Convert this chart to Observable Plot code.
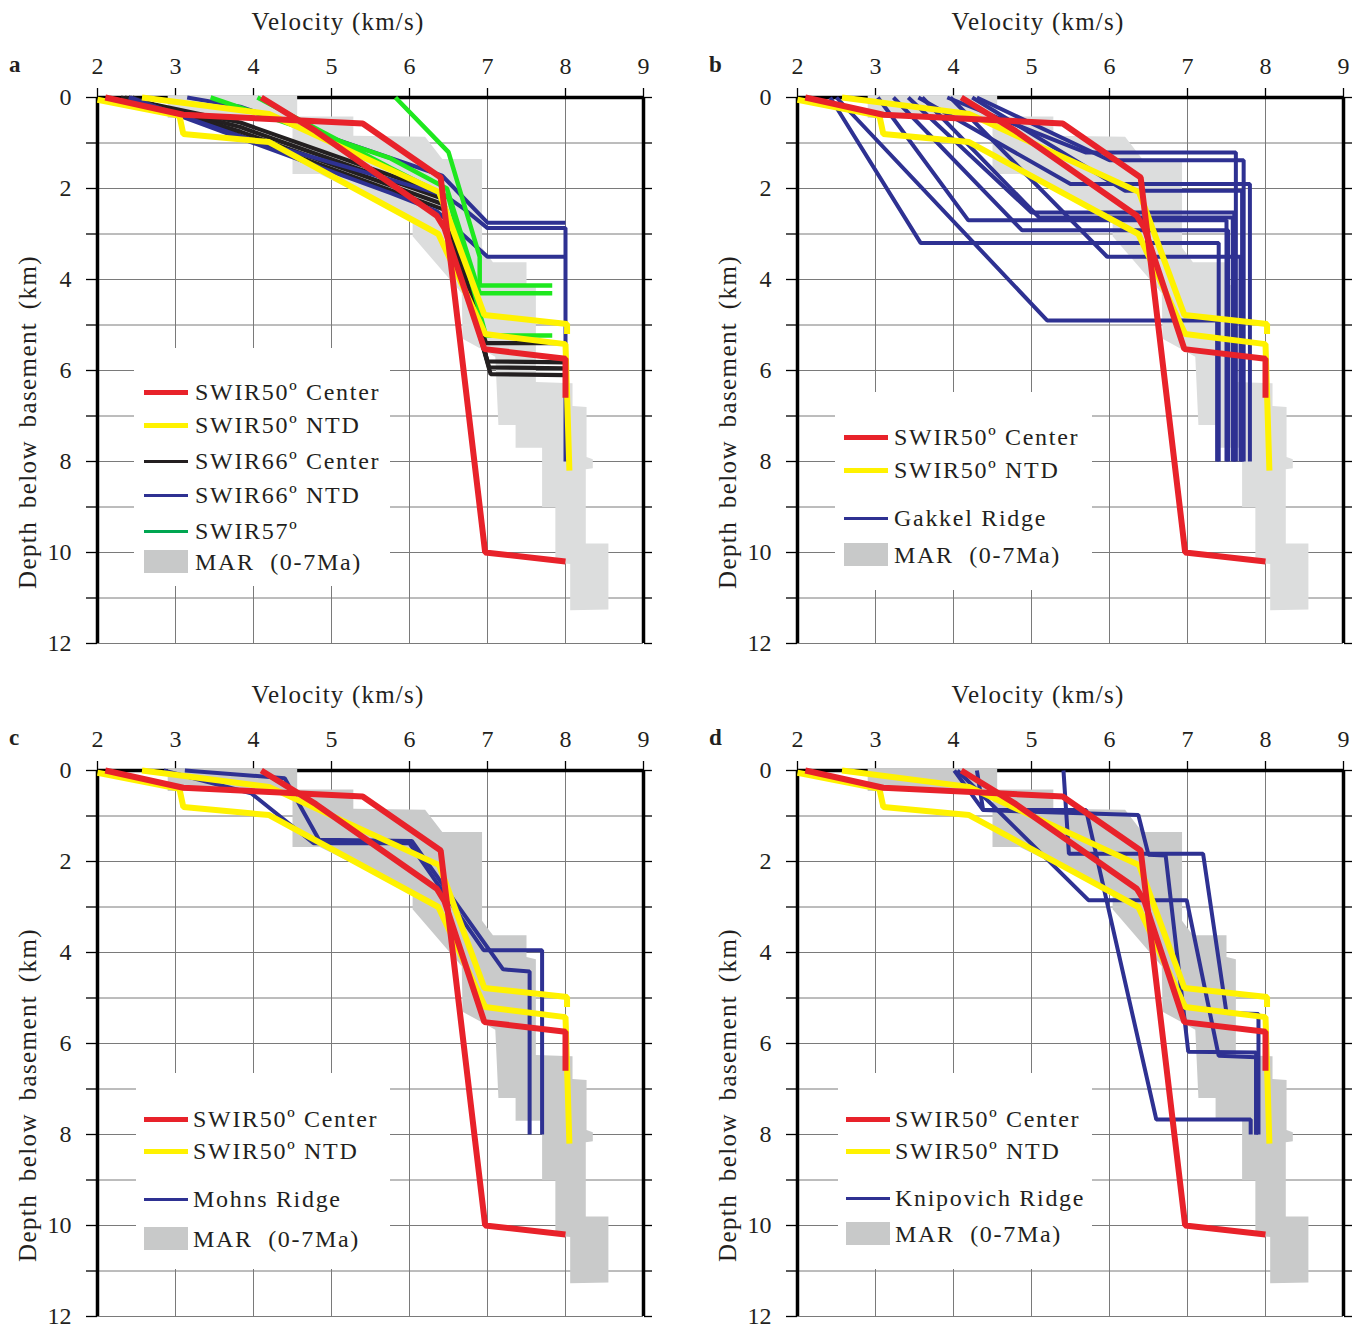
<!DOCTYPE html>
<html>
<head>
<meta charset="utf-8">
<script src="https://cdn.jsdelivr.net/npm/d3@7"></script>
<script src="https://cdn.jsdelivr.net/npm/@observablehq/plot@0.6"></script>
<style>
  body { margin: 0; background: #fff; }
  #wrap { position: relative; width: 1355px; height: 1327px; font-family: "Liberation Serif", "Times New Roman", serif; color: #231f20; overflow: hidden; }
  .panel { position: absolute; width: 677px; height: 663px; }
  .panel svg { position: absolute; left: 0; top: 0; overflow: visible; }
  .ov { position: absolute; white-space: pre; line-height: 1; }
  .title { font-size: 25px; letter-spacing: 1.2px; transform: translate(-50%, -50%); }
  .ylab { font-size: 25px; letter-spacing: 1.4px; word-spacing: 5px; transform: translate(-50%, -50%) rotate(-90deg); }
  .letter { font-size: 23px; font-weight: bold; transform: translateY(-50%); }
  .legbox { position: absolute; background: #fff; }
  .legtxt { font-size: 24px; letter-spacing: 1.7px; transform: translateY(-50%); }
  .sw { position: absolute; }
</style>
</head>
<body>
<div id="wrap"></div>
<script>
// ---------------- axis ticks ----------------
const xTicks = [2, 3, 4, 5, 6, 7, 8, 9];
const yTicks = [0, 1, 2, 3, 4, 5, 6, 7, 8, 9, 10, 11, 12];

// ---------------- profiles: [velocity km/s, depth km] ----------------
// SWIR 50° Center (red)
const swir50Center1 = [[2.1,0],[3.1,0.38],[5.4,0.57],[6.4,1.76],[6.97,10.0],[8.0,10.2]];
const swir50Center2 = [[4.1,0],[4.8,0.74],[6.35,2.6],[6.45,2.88],[6.96,5.53],[8.0,5.74],[8.0,6.6]];
// SWIR 50° NTD (yellow)
const swir50NTD1 = [[2.57,0],[4.2,0.36],[6.38,2.08],[6.96,4.78],[8.02,4.98],[8.02,5.2]];
const swir50NTD2 = [[2.0,0.05],[3.05,0.4],[3.1,0.8],[4.2,0.98],[6.37,3.0],[6.97,5.2],[8.0,5.42],[8.05,8.2]];
// SWIR 66° Center (black)
const swir66Center1 = [[2.3,0],[3.83,0.55],[6.4,2.1],[6.55,2.9],[6.98,5.4],[8.0,5.4]];
const swir66Center2 = [[2.35,0],[3.83,0.65],[6.42,2.22],[7.0,5.8],[8.0,5.82]];
const swir66Center3 = [[2.4,0],[3.83,0.75],[6.44,2.35],[7.02,5.93],[8.0,5.95]];
const swir66Center4 = [[2.45,0],[3.83,0.84],[6.45,2.47],[7.04,6.08],[8.0,6.1]];
// SWIR 66° NTD (blue)
const swir66NTD1 = [[3.15,0],[3.83,0.2],[6.42,1.72],[7.0,2.75],[8.0,2.75]];
const swir66NTD2 = [[2.4,0],[3.83,0.85],[6.45,2.15],[6.7,2.45],[7.0,2.87],[8.0,2.87],[8.0,8.0]];
const swir66NTD3 = [[2.42,0],[4.0,1.0],[5.76,2.1],[6.35,2.5],[7.0,3.5],[8.0,3.5]];
// SWIR 57° (green)
const swir57_1 = [[5.82,0],[6.5,1.2],[6.9,3.5],[6.9,4.13],[7.83,4.13]];
const swir57_2 = [[3.45,0],[5.76,1.34],[6.48,2.0],[6.9,4.3],[7.83,4.3]];
const swir57_3 = [[4.05,0],[5.76,1.55],[6.5,2.2],[6.98,5.23],[7.83,5.23]];
// Gakkel Ridge (blue)
const gakkel1 = [[3.92,0],[5.7,1.21],[7.62,1.21],[7.62,8.0]];
const gakkel2 = [[4.3,0],[6.0,1.38],[7.72,1.38],[7.72,8.0]];
const gakkel3 = [[3.55,0],[5.5,1.9],[7.8,1.9],[7.8,8.0]];
const gakkel4 = [[4.24,0],[6.2,2.05],[7.7,2.05],[7.7,8.0]];
const gakkel5 = [[3.42,0],[5.0,2.53],[7.6,2.53],[7.6,8.0]];
const gakkel6 = [[3.6,0],[5.1,2.64],[7.58,2.64],[7.58,8.0]];
const gakkel7 = [[3.03,0],[4.19,2.7],[7.5,2.7],[7.5,8.0]];
const gakkel8 = [[3.23,0],[4.88,2.92],[7.52,2.92],[7.52,8.0]];
const gakkel9 = [[2.42,0],[3.58,3.2],[7.4,3.2],[7.4,8.0]];
const gakkel10 = [[3.96,0],[5.97,3.5],[7.68,3.5],[7.68,8.0]];
const gakkel11 = [[2.5,0],[5.2,4.9],[7.38,4.9],[7.38,8.0]];
// Mohns Ridge (blue)
const mohns1 = [[3.12,0],[4.4,0.17],[4.84,1.52],[6.03,1.55],[7.2,4.37],[7.54,4.42],[7.54,8.0]];
const mohns2 = [[2.85,0],[3.97,0.5],[4.77,1.6],[6.0,1.6],[6.95,3.95],[7.7,3.95],[7.7,8.0]];
// Knipovich Ridge (blue)
const knipovich1 = [[4.01,0],[4.38,0.87],[6.37,0.98],[6.5,1.85],[6.72,1.87],[7.01,6.18],[7.88,6.2],[7.88,8.0]];
const knipovich2 = [[4.3,0],[4.38,0.87],[5.7,0.87],[6.6,7.67],[7.81,7.67],[7.81,8.0]];
const knipovich3 = [[5.41,0],[5.48,1.83],[7.2,1.83],[7.5,5.33],[7.91,5.35],[7.91,8.0]];
const knipovich4 = [[4.05,0],[5.73,2.85],[6.99,2.85],[7.4,6.27],[7.88,6.3],[7.88,8.0]];
// MAR (0-7 Ma) envelope: left edge top->bottom, then right edge bottom->top
const marLeft = [[2.9,-0.05],[2.9,0.45],[4.5,0.45],[4.5,1.68],[4.85,1.68],[6.04,2.7],[6.04,3.05],[6.67,4.3],[6.68,5.3],[7.1,5.7],[7.14,7.2],[7.36,7.2],[7.36,7.7],[7.7,7.7],[7.7,9.0],[7.87,9.0],[7.87,10.22],[8.06,10.25],[8.06,11.27]];
const marRight = [[8.55,11.25],[8.55,9.8],[8.26,9.8],[8.26,8.17],[8.35,8.15],[8.35,7.95],[8.27,7.9],[8.27,6.8],[8.09,6.78],[8.09,6.28],[7.62,6.25],[7.62,4.15],[7.5,4.1],[7.5,3.62],[7.07,3.62],[6.93,3.3],[6.93,1.35],[6.42,1.35],[6.2,0.86],[5.28,0.84],[5.28,0.42],[4.56,0.42],[4.56,-0.05]];

// ---------------- styles ----------------
const RED = "#e8222a", YELLOW = "#fff200", BLUE = "#2e3192", BLACK = "#231f20", GREEN = "#1ee81e", GREENLEG = "#00a651";

const series = {
  red:    {color: RED, width: 6, profiles: [swir50Center1, swir50Center2]},
  yellow: {color: YELLOW, width: 6, profiles: [swir50NTD1, swir50NTD2]},
  black:  {color: BLACK, width: 4.2, profiles: [swir66Center1, swir66Center2, swir66Center3, swir66Center4]},
  blue66: {color: BLUE, width: 4, profiles: [swir66NTD1, swir66NTD2, swir66NTD3]},
  green:  {color: GREEN, width: 4.5, profiles: [swir57_1, swir57_2, swir57_3]},
  gakkel: {color: BLUE, width: 4, profiles: [gakkel1,gakkel2,gakkel3,gakkel4,gakkel5,gakkel6,gakkel7,gakkel8,gakkel9,gakkel10,gakkel11]},
  mohns:  {color: BLUE, width: 4, profiles: [mohns1, mohns2]},
  knip:   {color: BLUE, width: 4, profiles: [knipovich1, knipovich2, knipovich3, knipovich4]}
};

const panels = [
  {letter: "a", left: 0, top: 0, mar: "#dcdddd", order: ["black","blue66","green","yellow","red"],
   box: [134, 348, 256, 238],
   legend: [
     {t: "SWIR50º Center", c: RED, w: 5, y: 392},
     {t: "SWIR50º NTD", c: YELLOW, w: 5, y: 425},
     {t: "SWIR66º Center", c: BLACK, w: 3, y: 461},
     {t: "SWIR66º NTD", c: BLUE, w: 3, y: 495},
     {t: "SWIR57º", c: GREENLEG, w: 3, y: 531},
     {t: "MAR  (0-7Ma)", c: "#c8c9c9", rect: true, y: 562}
   ], sx: 144, tx: 195},
  {letter: "b", left: 700, top: 0, mar: "#dcdddd", order: ["gakkel","yellow","red"],
   box: [135, 392, 257, 198],
   legend: [
     {t: "SWIR50º Center", c: RED, w: 5, y: 437},
     {t: "SWIR50º NTD", c: YELLOW, w: 5, y: 470},
     {t: "Gakkel Ridge", c: BLUE, w: 3, y: 518},
     {t: "MAR  (0-7Ma)", c: "#c8c9c9", rect: true, y: 555}
   ], sx: 144, tx: 194},
  {letter: "c", left: 0, top: 673, mar: "#c9caca", order: ["mohns","yellow","red"],
   box: [136, 400, 254, 196],
   legend: [
     {t: "SWIR50º Center", c: RED, w: 5, y: 446},
     {t: "SWIR50º NTD", c: YELLOW, w: 5, y: 478},
     {t: "Mohns Ridge", c: BLUE, w: 3, y: 526},
     {t: "MAR  (0-7Ma)", c: "#c8c9c9", rect: true, y: 566}
   ], sx: 144, tx: 193},
  {letter: "d", left: 700, top: 673, mar: "#c9caca", order: ["knip","yellow","red"],
   box: [138, 400, 254, 196],
   legend: [
     {t: "SWIR50º Center", c: RED, w: 5, y: 446},
     {t: "SWIR50º NTD", c: YELLOW, w: 5, y: 478},
     {t: "Knipovich Ridge", c: BLUE, w: 3, y: 525},
     {t: "MAR  (0-7Ma)", c: "#c8c9c9", rect: true, y: 561}
   ], sx: 146, tx: 195}
];

function rowsOf(profiles, key) {
  const rows = [];
  profiles.forEach((p, i) => p.forEach(([v, d]) => rows.push({id: key + i, v, d})));
  return rows;
}
const marRows = [...marLeft, ...marRight].map(([v, d]) => ({v, d}));

const wrap = document.getElementById("wrap");

for (const p of panels) {
  const div = document.createElement("div");
  div.className = "panel";
  div.style.left = p.left + "px";
  div.style.top = p.top + "px";
  wrap.appendChild(div);

  const dataMarks = p.order.map(k => {
    const s = series[k];
    return Plot.line(rowsOf(s.profiles, k), {x: "v", y: "d", z: "id", stroke: s.color, strokeWidth: s.width, strokeLinejoin: "miter", strokeLinecap: "butt"});
  });

  const svg = Plot.plot({
    width: 677, height: 663,
    marginLeft: 97, marginTop: 97, marginRight: 34, marginBottom: 20,
    x: {domain: [2, 9], axis: null},
    y: {domain: [0, 12], reverse: true, axis: null},
    style: {fontFamily: "Liberation Serif, Times New Roman, serif", fontSize: "24px", color: "#231f20", background: "transparent", overflow: "visible"},
    marks: [
      Plot.ruleX(xTicks, {stroke: "#7a7a7a", strokeWidth: 1}),
      Plot.ruleY(yTicks, {stroke: "#7a7a7a", strokeWidth: 1}),
      Plot.axisX({anchor: "top", ticks: xTicks, tickSize: 10, tickPadding: 14, label: null, fontSize: 24, stroke: "#000", strokeWidth: 1.3, tickFormat: d => String(d)}),
      Plot.axisY({anchor: "left", ticks: yTicks, tickSize: 11, tickPadding: 15, label: null, fontSize: 24, stroke: "#000", strokeWidth: 1.3, tickFormat: d => d % 2 === 0 ? String(d) : ""}),
      Plot.axisY({anchor: "right", ticks: yTicks, tickSize: 8, label: null, stroke: "#000", strokeWidth: 1.3, tickFormat: () => ""}),
      Plot.ruleY([0], {stroke: "#000", strokeWidth: 3.5}),
      Plot.ruleX([2, 9], {y1: 0, y2: 12, stroke: "#000", strokeWidth: 3.5}),
      Plot.line(marRows, {x: "v", y: "d", fill: p.mar, stroke: "none"}),
      ...dataMarks
    ]
  });
  div.appendChild(svg);

  // titles
  const t = document.createElement("div");
  t.className = "ov title"; t.textContent = "Velocity (km/s)";
  t.style.left = "338px"; t.style.top = "21px";
  div.appendChild(t);
  const yl = document.createElement("div");
  yl.className = "ov ylab"; yl.textContent = "Depth below basement (km)";
  yl.style.left = "27px"; yl.style.top = "422px";
  div.appendChild(yl);
  const lt = document.createElement("div");
  lt.className = "ov letter"; lt.textContent = p.letter;
  lt.style.left = "9px"; lt.style.top = "64px";
  div.appendChild(lt);

  // legend
  const [bx, by, bw, bh] = p.box;
  const box = document.createElement("div");
  box.className = "legbox";
  Object.assign(box.style, {left: bx + "px", top: by + "px", width: bw + "px", height: bh + "px"});
  div.appendChild(box);
  for (const e of p.legend) {
    const sw = document.createElement("div");
    sw.className = "sw";
    if (e.rect) {
      Object.assign(sw.style, {left: p.sx + "px", top: (e.y - 12) + "px", width: "44px", height: "23px", background: e.c});
    } else {
      Object.assign(sw.style, {left: p.sx + "px", top: (e.y - e.w / 2) + "px", width: "44px", height: e.w + "px", background: e.c});
    }
    div.appendChild(sw);
    const tx = document.createElement("div");
    tx.className = "ov legtxt"; tx.textContent = e.t;
    tx.style.left = p.tx + "px"; tx.style.top = e.y + "px";
    div.appendChild(tx);
  }
}
</script>
</body>
</html>
